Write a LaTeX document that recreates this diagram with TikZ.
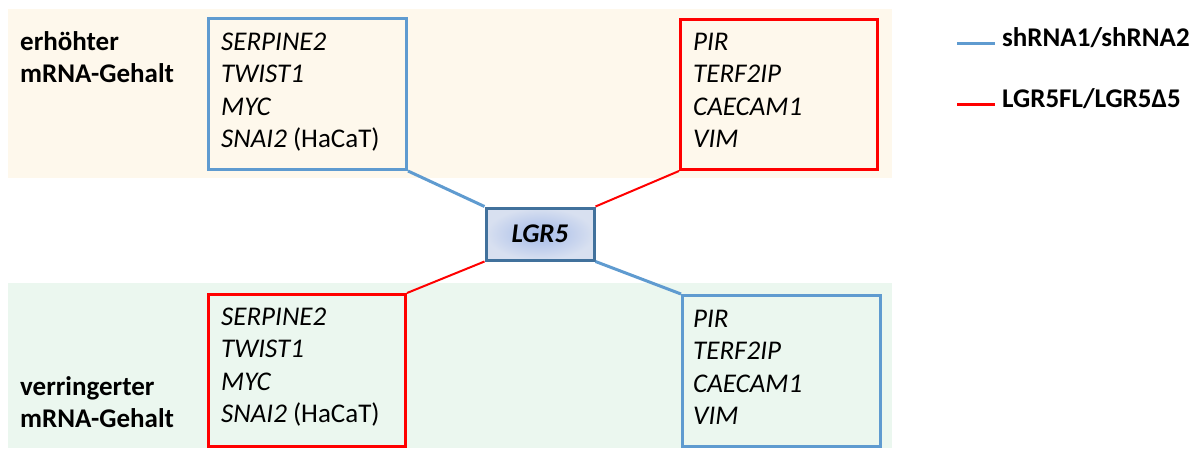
\documentclass[tikz,border=0pt]{standalone}
\usepackage{fontspec}
\setmainfont{Carlito}
\definecolor{bandtop}{HTML}{FEF8EC}
\definecolor{bandbot}{HTML}{EBF7EF}
\definecolor{lblue}{HTML}{5F9BD0}
\definecolor{lred}{HTML}{FF0000}
\definecolor{cborder}{HTML}{41719C}
\definecolor{cin}{HTML}{A4BAE8}
\definecolor{cout}{HTML}{D8E0F0}
\begin{document}
\begin{tikzpicture}[x=1pt,y=-1pt,
  txt/.style={font=\fontsize{27}{32}\selectfont, inner sep=0pt, anchor=base west},
  lab/.style={txt, font=\fontsize{27}{32}\selectfont\bfseries},
  gene/.style={txt, font=\fontsize{27}{32}\selectfont\itshape},
  bluebox/.style={draw=lblue, line width=3pt, inner sep=0pt, anchor=north west},
  redbox/.style={draw=lred, line width=3pt, inner sep=0pt, anchor=north west},
  blueline/.style={draw=lblue, line width=3pt},
  redline/.style={draw=lred, line width=2pt}]
\useasboundingbox (0,0) rectangle (1203,448);
\fill[bandtop] (8,9) rectangle (892,178);
\fill[bandbot] (8,283) rectangle (892,448);
% side labels
\node[lab] (l1) at (20,50) {erhöhter};
\node[lab] (l2) at (20,82) {mRNA-Gehalt};
\node[lab] (l3) at (20,395) {verringerter};
\node[lab] (l4) at (20,427) {mRNA-Gehalt};
% boxes
\node[bluebox, minimum width=198pt, minimum height=151pt] (tl) at (207,17) {};
\node[redbox, minimum width=197pt, minimum height=150pt] (tr) at (679,18) {};
\node[redbox, minimum width=197pt, minimum height=152pt] (bl) at (207,293) {};
\node[bluebox, minimum width=198pt, minimum height=151pt] (br) at (681,294) {};
% center
\node[draw=cborder, line width=3pt, inner sep=0pt, minimum width=108pt, minimum height=52pt,
  inner color=cin, outer color=cout, font=\fontsize{27}{32}\selectfont\bfseries\itshape] (c) at (540,234) {LGR5};
% connectors
\draw[blueline] (tl.south east) -- (c.north west);
\draw[redline] (tr.south west) -- (c.north east);
\draw[redline] (bl.north east) -- (c.south west);
\draw[blueline] (br.north west) -- (c.south east);
% genes top-left
\node[gene] (a1) at (221,50) {SERPINE2};
\node[gene] (a2) at (221,82.5) {TWIST1};
\node[gene] (a3) at (221,115) {MYC};
\node[txt] (a4) at (221,147.5) {\textit{SNAI2} (HaCaT)};
% genes top-right
\node[gene] (b1) at (693,50) {PIR};
\node[gene] (b2) at (693,82.5) {TERF2IP};
\node[gene] (b3) at (693,115) {CAECAM1};
\node[gene] (b4) at (693,147.5) {VIM};
% genes bottom-left
\node[gene] (d1) at (221,325) {SERPINE2};
\node[gene] (d2) at (221,357.5) {TWIST1};
\node[gene] (d3) at (221,390) {MYC};
\node[txt] (d4) at (221,422.5) {\textit{SNAI2} (HaCaT)};
% genes bottom-right
\node[gene] (e1) at (693,327) {PIR};
\node[gene] (e2) at (693,359.5) {TERF2IP};
\node[gene] (e3) at (693,392) {CAECAM1};
\node[gene] (e4) at (693,424.5) {VIM};
% legend
\coordinate (g1a) at (957,43);
\coordinate (g1b) at (995,43);
\draw[blueline] (g1a) -- (g1b);
\node[lab] (g1) at (1002,46) {shRNA1/shRNA2};
\coordinate (g2a) at (957,104);
\coordinate (g2b) at (995,104);
\draw[draw=lred, line width=3pt] (g2a) -- (g2b);
\node[lab] (g2) at (1002,107) {LGR5FL/LGR5Δ5};
\end{tikzpicture}
\end{document}
